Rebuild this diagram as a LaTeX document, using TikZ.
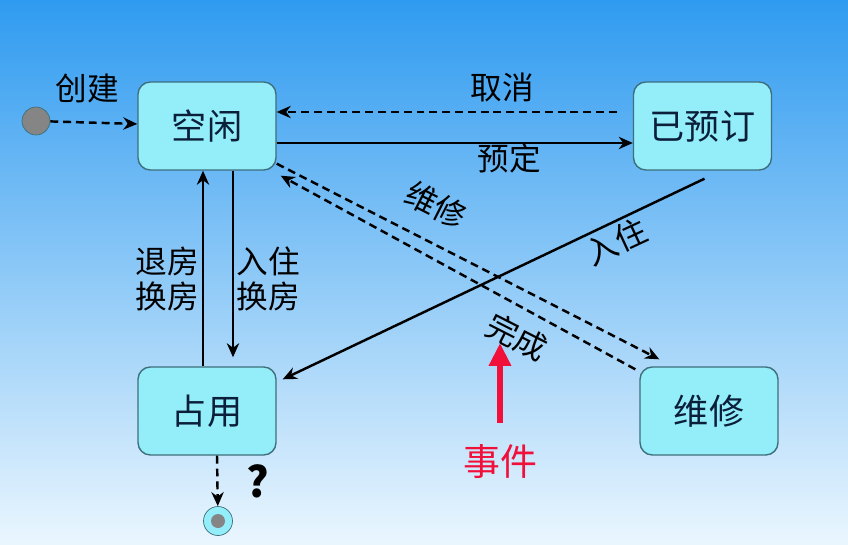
\documentclass[tikz,border=0pt]{standalone}
\usepackage{fontspec}
\setmainfont{Noto Sans CJK SC}
\usetikzlibrary{arrows.meta,calc}
\definecolor{bgTop}{HTML}{2F9BF0}
\definecolor{bgMid}{HTML}{7EC4F8}
\definecolor{bgBot}{HTML}{EAF6FE}
\definecolor{stFill}{HTML}{93EEF9}
\definecolor{stLine}{HTML}{3D6F7C}
\definecolor{stText}{HTML}{0B1E3A}
\definecolor{dotGray}{HTML}{858585}
\definecolor{evRed}{HTML}{F0103A}

\begin{document}
\begin{tikzpicture}[x=0.02cm,y=-0.02cm,
          st/.style={draw=stLine,fill=stFill,rounded corners=7pt,line width=0.8pt,
            minimum width=2.76cm,minimum height=1.76cm,text=stText,
            font=\fontsize{20}{24}\selectfont},
          lb/.style={font=\fontsize{18}{20}\selectfont,inner sep=1pt},
          e/.style={-{Stealth[length=8pt,width=7pt]},line width=1.4pt},
          d/.style={e,dash pattern=on 4.5pt off 2.8pt}]
        \shade[top color=bgTop,middle color=bgMid,bottom color=bgBot] (0,0) rectangle (848,544);

        % states
        \node[st] (idle) at (207,126) {空闲};
        \node[st] (booked) at (702.5,126) {已预订};
        \node[st] (occ) at (207,411) {占用};
        \node[st] (rep) at (709,411) {维修};
        \node[circle,draw=stLine,fill=dotGray,minimum size=0.56cm,inner sep=0] (init) at (36,121) {};
        \node[circle,draw=stLine,fill=stFill,minimum size=0.58cm,inner sep=0] (fin) at (218,521) {};
        \node[circle,fill=dotGray,minimum size=0.28cm,inner sep=0] (fdot) at (fin) {};

        % transitions
        \draw[d] (init) -- (idle);
        \draw[d] ($(booked.west)+(-16,-14)$) -- ($(idle.east)+(0,-14)$);
        \draw[e] ($(idle.east)+(0,17)$) -- ($(booked.west)+(0,17)$);
        \draw[d] ($(idle.south east)+(0,-7)$) -- ($(rep.north west)+(20,-7)$);
        \draw[d] ($(rep.north west)+(-4,3)$) -- ($(idle.south east)+(4,5)$);
        \draw[e] ($(booked.south)+(2,8)$) -- ($(occ.north east)+(6,13)$);
        \draw[e] ($(occ.north)+(-4,0)$) -- ($(idle.south)+(-4,0)$);
        \draw[e] ($(idle.south)+(26,0)$) -- ($(occ.north)+(26,-9)$);
        \draw[d] ($(occ.south)+(10,0)$) -- (fin);

        % labels
        \node[lb] (lcre) at (87,88) {创建};
        \node[lb] (lcan) at (502,87) {取消};
        \node[lb] (lres) at (509,158) {预定};
        \node[lb,rotate=-27] (lfix) at (436,205) {维修};
        \node[lb,rotate=-27] (ldone) at (517,337) {完成};
        \node[lb,rotate=25] (lin) at (616,242) {入住};
        \node[lb,align=center] (lout) at (167,279) {退房\\换房};
        \node[lb,align=center] (lchg) at (268,279) {入住\\换房};
        \node[font=\fontsize{24}{26}\selectfont\bfseries] (q) at (258,481) {?};

        % event
        \node[text=evRed,font=\fontsize{21}{24}\selectfont] (ev) at (500,462) {事件};
        \coordinate (evtip) at (500,343);
        \draw[evRed,line width=3.4pt,-{Triangle[length=13pt,width=12pt]}] ($(ev.north)+(0,-16)$) -- (evtip);
      \end{tikzpicture}
\end{document}
